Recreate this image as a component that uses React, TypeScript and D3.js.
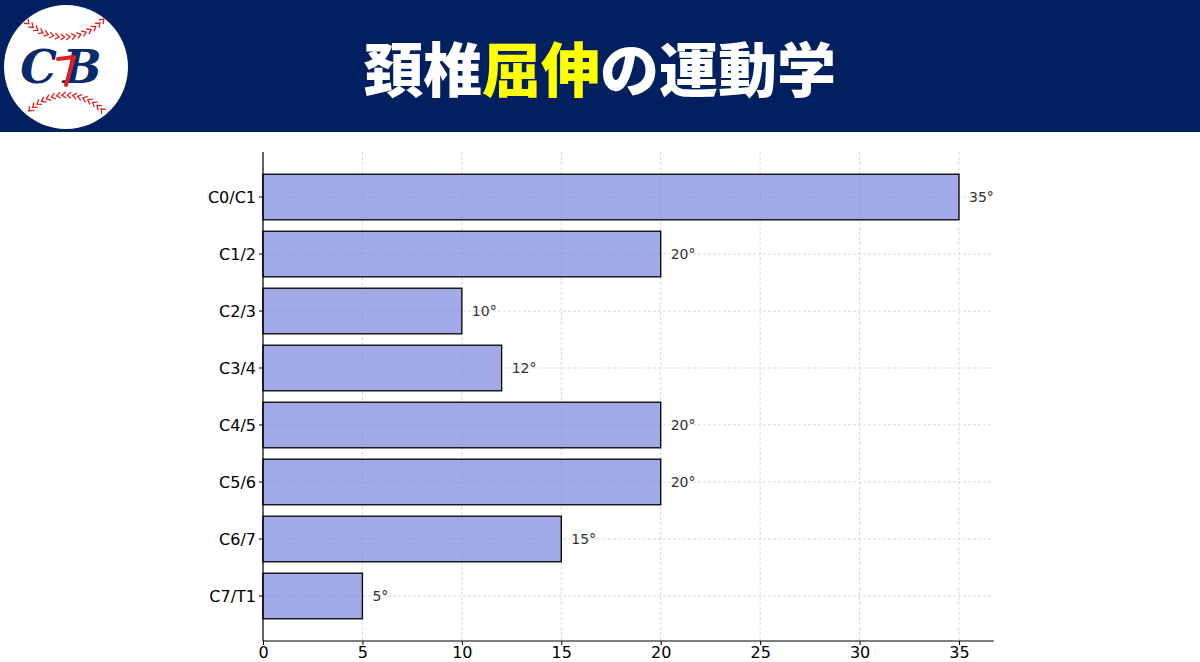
import React, { useEffect, useRef } from 'react';
import * as d3 from 'd3';

const categories = ['C0/C1', 'C1/2', 'C2/3', 'C3/4', 'C4/5', 'C5/6', 'C6/7', 'C7/T1'];
const angles = [35, 20, 10, 12, 20, 20, 15, 5];
const xTicks = [0, 5, 10, 15, 20, 25, 30, 35];
const titleParts = [
  { text: '頚椎', color: '#FFFFFF' },
  { text: '屈伸', color: '#FFFF00' },
  { text: 'の運動学', color: '#FFFFFF' },
];

const W = 1200;
const H = 662;

const App: React.FC = () => {
  const svgRef = useRef<SVGSVGElement | null>(null);

  useEffect(() => {
    if (!svgRef.current) return;
    const svg = d3.select(svgRef.current);
    svg.selectAll('*').remove();

    // header band
    svg.append('rect').attr('x', 0).attr('y', 0).attr('width', W).attr('height', 132).attr('fill', '#012060');

    // logo
    const logo = svg.append('g').attr('transform', 'translate(66,67)');
    logo.append('circle').attr('r', 62).attr('fill', '#FFFFFF');
    // seam stitches
    const stitch = (cx: number, cy: number, r: number, a0: number, a1: number, n: number, flip: boolean) => {
      for (let i = 0; i <= n; i++) {
        const a = ((a0 + ((a1 - a0) * i) / n) * Math.PI) / 180;
        const px = cx + r * Math.cos(a);
        const py = cy + r * Math.sin(a);
        const ang = (a * 180) / Math.PI + (flip ? 90 : -90);
        logo
          .append('path')
          .attr('d', 'M-2.5,-3 L1.5,0 L-2.5,3')
          .attr('transform', `translate(${px},${py}) rotate(${ang})`)
          .attr('fill', 'none')
          .attr('stroke', '#E02020')
          .attr('stroke-width', 1.3);
      }
    };
    stitch(-2, -83, 53, 133, 43, 15, false);
    stitch(0, 79, 51, -135, -45, 15, false);
    logo
      .append('text')
      .attr('x', -2)
      .attr('y', 16)
      .attr('text-anchor', 'middle')
      .attr('font-family', 'DejaVu Serif')
      .attr('font-style', 'italic')
      .attr('font-weight', 'bold')
      .attr('font-size', 46)
      .attr('letter-spacing', 6)
      .attr('fill', '#0B2A6B')
      .text('CB');
    logo
      .append('path')
      .attr('d', 'M-8,-8 L8,-10 L0,18')
      .attr('fill', 'none')
      .attr('stroke', '#E02020')
      .attr('stroke-width', 4)
      .attr('stroke-linecap', 'round')
      .attr('stroke-linejoin', 'round');

    // title
    const title = svg
      .append('text')
      .attr('x', 600)
      .attr('y', 92)
      .attr('text-anchor', 'middle')
      .attr('font-family', '"Noto Sans CJK JP"')
      .attr('font-weight', 900)
      .attr('font-size', 59);
    titleParts.forEach((p) => title.append('tspan').attr('fill', p.color).text(p.text));

    // chart area
    const left = 263;
    const bottom = 641;
    const n = categories.length;
    const x = d3.scaleLinear().domain([0, 35 * 1.05]).range([left, left + (35 * 1.05 * (959 - 263)) / 35]);
    const y = d3
      .scaleLinear()
      .domain([-0.79, n - 1 + 0.79])
      .range([152, bottom]);
    const right = x(35 * 1.05);
    const bh = y(0.4) - y(-0.4);

    const g = svg.append('g');

    // grid
    g.selectAll('.vgrid')
      .data(xTicks)
      .enter()
      .append('line')
      .attr('x1', (d) => x(d))
      .attr('x2', (d) => x(d))
      .attr('y1', y(-0.79))
      .attr('y2', bottom)
      .attr('stroke', '#CFCFCF')
      .attr('stroke-width', 0.8)
      .attr('stroke-dasharray', '3,2');
    g.selectAll('.hgrid')
      .data(categories)
      .enter()
      .append('line')
      .attr('x1', left)
      .attr('x2', right)
      .attr('y1', (_d, i) => y(i))
      .attr('y2', (_d, i) => y(i))
      .attr('stroke', '#CFCFCF')
      .attr('stroke-width', 0.8)
      .attr('stroke-dasharray', '3,2');

    // bars
    g.selectAll('.bar')
      .data(angles)
      .enter()
      .append('rect')
      .attr('x', x(0))
      .attr('y', (_d, i) => y(i) - bh / 2)
      .attr('width', (d) => x(d) - x(0))
      .attr('height', bh)
      .attr('fill', 'rgba(121,133,219,0.7)')
      .attr('stroke', '#000000')
      .attr('stroke-width', 1.3);

    // value labels
    g.selectAll('.lbl')
      .data(angles)
      .enter()
      .append('text')
      .attr('x', (d) => x(d) + 10)
      .attr('y', (_d, i) => y(i))
      .attr('dy', '0.35em')
      .attr('font-family', 'DejaVu Sans')
      .attr('font-size', 14)
      .attr('fill', '#333333')
      .text((d) => `${d}°`);

    // axes
    const xAxis = d3.axisBottom(x).tickValues(xTicks).tickSize(4).tickPadding(2).tickFormat((d) => `${d}`);
    const xg = g.append('g').attr('transform', `translate(0,${bottom})`).call(xAxis);
    xg.select('.domain').attr('stroke', '#000').attr('stroke-width', 1.2).attr('d', `M${left},0H${right}`);
    xg.selectAll('.tick line').attr('stroke', '#000');
    xg.selectAll('text').attr('font-family', 'DejaVu Sans').attr('font-size', 16).attr('fill', '#000');

    const yg = g.append('g').attr('transform', `translate(${left},0)`);
    yg.append('line')
      .attr('x1', 0)
      .attr('x2', 0)
      .attr('y1', y(-0.79))
      .attr('y2', bottom)
      .attr('stroke', '#000')
      .attr('stroke-width', 1.2);
    categories.forEach((c, i) => {
      yg.append('line').attr('x1', -4).attr('x2', 0).attr('y1', y(i)).attr('y2', y(i)).attr('stroke', '#000');
      yg.append('text')
        .attr('x', -7)
        .attr('y', y(i))
        .attr('dy', '0.35em')
        .attr('text-anchor', 'end')
        .attr('font-family', 'DejaVu Sans')
        .attr('font-size', 16)
        .attr('fill', '#000')
        .text(c);
    });
  }, []);

  return (
    <div style={{ width: W, height: H, position: 'absolute', left: 0, top: 0, background: '#fff' }}>
      <svg ref={svgRef} width={W} height={H} />
    </div>
  );
};

export default App;
